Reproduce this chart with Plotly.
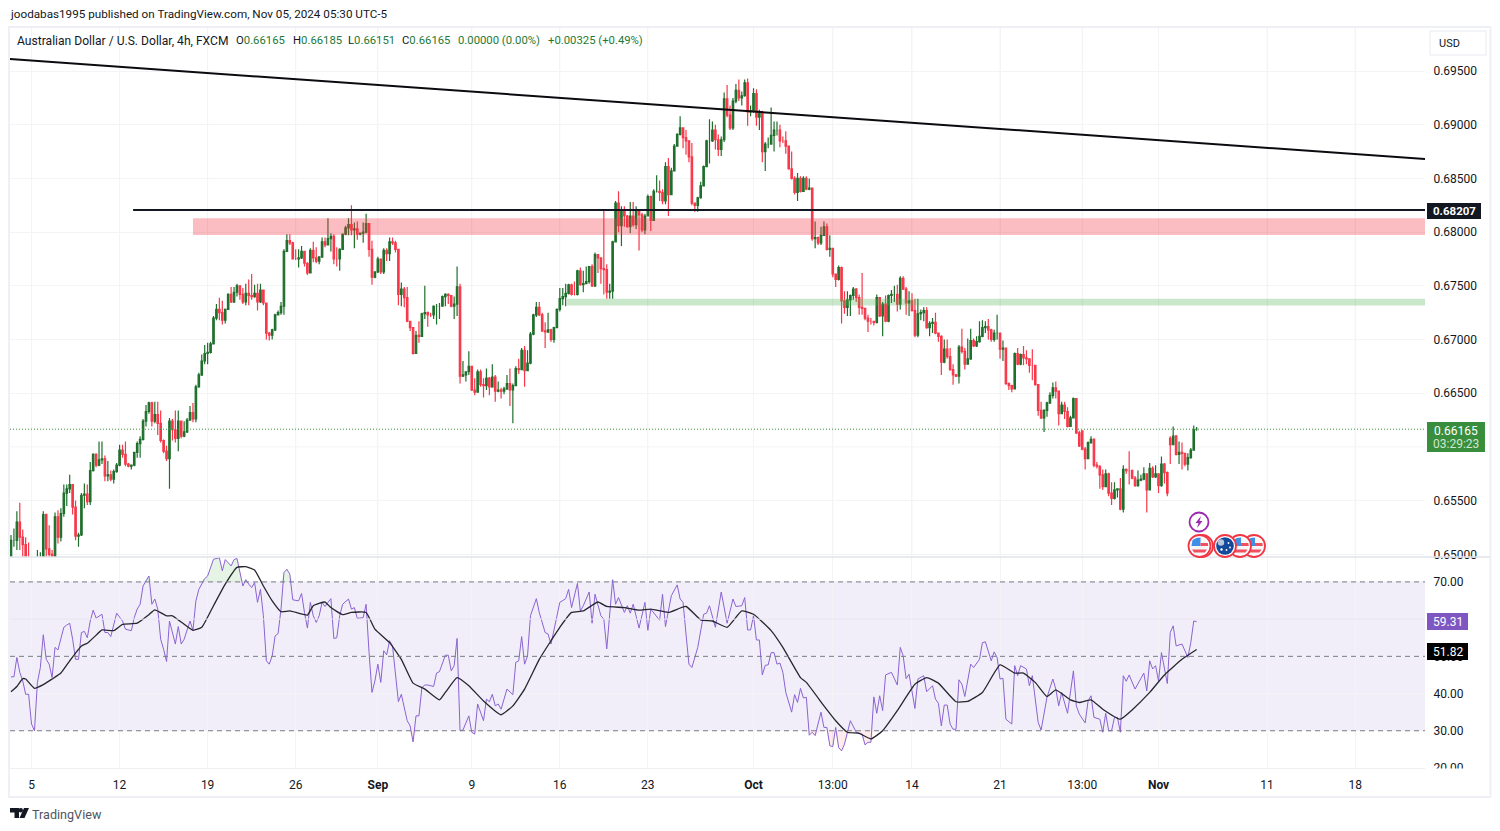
import plotly.graph_objects as go

# --- price data in pips (0.0001), one entry per 4h bar ---
closes = [6513,6513,6530,6516,6509,6496,6490,6480,6475,6490,6490,6537,6505,6500,6496,6535,6516,6538,6557,6561,
6565,6544,6517,6518,6555,6556,6549,6578,6593,6583,6588,6589,6573,6574,6570,6577,6583,6597,6593,6584,
6582,6583,6595,6603,6607,6624,6633,6641,6624,6630,6622,6606,6596,6589,6624,6616,6608,6624,6610,6614,
6625,6632,6626,6656,6667,6680,6687,6688,6696,6720,6728,6725,6718,6728,6742,6735,6744,6750,6742,6735,
6743,6741,6740,6743,6735,6746,6734,6706,6704,6709,6723,6725,6731,6782,6792,6790,6775,6775,6776,6782,
6771,6762,6783,6776,6773,6777,6791,6788,6794,6796,6775,6775,6784,6798,6804,6807,6802,6803,6798,6799,
6800,6808,6784,6758,6763,6775,6763,6783,6780,6791,6790,6784,6742,6747,6739,6717,6711,6687,6704,6703,
6724,6725,6723,6723,6731,6731,6731,6740,6742,6741,6731,6733,6749,6666,6667,6670,6675,6653,6651,6670,
6658,6657,6664,6656,6665,6652,6653,6652,6654,6659,6653,6657,6673,6672,6690,6671,6678,6705,6723,6730,
6723,6708,6707,6709,6700,6711,6728,6738,6740,6743,6751,6742,6742,6764,6751,6752,6754,6768,6750,6779,
6776,6766,6765,6744,6745,6791,6827,6806,6821,6815,6805,6815,6807,6821,6816,6802,6815,6833,6811,6838,
6838,6837,6829,6861,6835,6857,6880,6891,6897,6888,6885,6870,6827,6825,6832,6843,6861,6885,6885,6895,
6886,6877,6886,6924,6909,6897,6922,6932,6925,6927,6939,6912,6913,6929,6907,6911,6875,6882,6882,6890,
6895,6895,6885,6885,6880,6859,6850,6837,6850,6838,6850,6840,6841,6794,6795,6790,6797,6805,6784,6785,
6761,6756,6767,6736,6730,6737,6741,6747,6739,6730,6729,6720,6717,6717,6716,6739,6722,6733,6717,6741,
6742,6742,6733,6757,6747,6734,6736,6727,6704,6724,6725,6727,6711,6715,6716,6706,6703,6679,6691,6684,
6672,6667,6666,6693,6689,6677,6682,6699,6694,6698,6703,6711,6712,6709,6700,6706,6706,6691,6692,6659,
6657,6654,6687,6677,6686,6683,6682,6676,6676,6658,6634,6627,6634,6641,6648,6655,6652,6631,6639,6633,
6619,6627,6645,6613,6601,6598,6589,6604,6607,6583,6582,6574,6563,6575,6557,6552,6560,6561,6542,6579,
6578,6578,6571,6564,6569,6570,6575,6560,6580,6572,6575,6564,6584,6576,6557,6602,6610,6593,6595,6594,
6584,6590,6597,6616,6616.5]
highs = [6518,6524,6540,6548,6523,6516,6511,6492,6490,6504,6502,6540,6538,6527,6504,6539,6541,6543,6565,6565,
6574,6565,6550,6520,6557,6566,6565,6586,6594,6594,6605,6605,6592,6587,6578,6579,6585,6602,6602,6605,
6585,6583,6595,6605,6610,6626,6639,6642,6642,6642,6642,6634,6607,6601,6627,6626,6634,6634,6624,6624,
6627,6638,6641,6658,6669,6686,6695,6697,6698,6722,6733,6739,6736,6729,6743,6749,6749,6752,6750,6748,
6752,6756,6761,6751,6752,6752,6746,6734,6707,6710,6724,6727,6735,6784,6798,6798,6791,6784,6784,6787,
6782,6772,6785,6791,6786,6777,6795,6795,6813,6799,6798,6786,6785,6799,6806,6813,6825,6809,6810,6799,
6809,6817,6808,6792,6763,6777,6775,6785,6785,6795,6795,6792,6784,6753,6749,6749,6717,6711,6708,6717,
6725,6750,6726,6725,6732,6733,6734,6741,6743,6743,6741,6740,6768,6752,6680,6670,6689,6675,6664,6672,
6672,6664,6673,6665,6677,6667,6661,6655,6656,6667,6673,6659,6675,6682,6692,6694,6690,6707,6724,6735,
6735,6725,6716,6725,6710,6712,6729,6748,6748,6752,6752,6752,6754,6765,6767,6764,6768,6768,6770,6781,
6779,6775,6821,6770,6752,6792,6829,6838,6824,6824,6816,6828,6828,6824,6821,6818,6817,6835,6834,6840,
6853,6848,6840,6865,6869,6860,6882,6892,6908,6897,6895,6885,6883,6827,6833,6847,6862,6886,6905,6903,
6900,6891,6889,6930,6937,6918,6925,6938,6942,6931,6942,6943,6918,6934,6933,6914,6913,6884,6888,6916,
6903,6903,6900,6889,6894,6880,6875,6852,6855,6852,6852,6852,6850,6841,6810,6796,6805,6810,6808,6797,
6785,6761,6769,6768,6745,6745,6742,6749,6748,6742,6762,6729,6723,6720,6717,6742,6739,6735,6741,6742,
6746,6750,6751,6759,6759,6749,6745,6743,6738,6738,6728,6730,6730,6717,6720,6725,6706,6704,6700,6700,
6692,6677,6668,6695,6710,6692,6701,6710,6701,6703,6717,6718,6717,6719,6710,6709,6723,6706,6699,6692,
6660,6658,6688,6692,6687,6694,6690,6682,6691,6676,6658,6642,6635,6642,6651,6660,6661,6652,6642,6642,
6637,6629,6646,6645,6615,6615,6600,6605,6610,6608,6586,6583,6579,6579,6576,6567,6567,6561,6571,6583,
6580,6596,6579,6573,6578,6574,6581,6575,6585,6582,6583,6575,6591,6585,6577,6610,6619,6611,6605,6604,
6593,6594,6599,6620,6618.5]
lows = [6495,6507,6504,6504,6496,6488,6470,6465,6460,6470,6480,6490,6497,6493,6485,6495,6510,6512,6535,6545,
6557,6537,6513,6507,6517,6543,6546,6546,6577,6581,6582,6584,6568,6568,6568,6566,6576,6582,6590,6582,
6581,6579,6582,6590,6590,6606,6619,6631,6619,6622,6611,6604,6594,6587,6561,6606,6604,6596,6608,6609,
6613,6625,6623,6623,6655,6666,6677,6677,6687,6696,6718,6718,6714,6715,6728,6734,6734,6740,6737,6733,
6732,6732,6737,6739,6727,6734,6732,6700,6699,6700,6708,6723,6723,6723,6782,6788,6775,6774,6767,6775,
6768,6760,6762,6772,6771,6770,6776,6786,6788,6782,6770,6768,6764,6784,6797,6797,6797,6785,6793,6797,
6790,6799,6777,6751,6757,6762,6761,6761,6773,6773,6788,6781,6732,6731,6730,6716,6708,6686,6687,6697,
6703,6719,6712,6721,6719,6714,6719,6731,6731,6733,6730,6719,6722,6659,6665,6661,6667,6652,6648,6651,
6656,6646,6653,6648,6655,6642,6651,6645,6649,6653,6638,6622,6657,6668,6672,6656,6671,6677,6704,6721,
6722,6707,6692,6706,6698,6697,6711,6726,6732,6731,6742,6741,6741,6741,6750,6744,6752,6752,6749,6749,
6762,6752,6742,6738,6738,6738,6791,6800,6787,6805,6804,6799,6805,6803,6783,6800,6798,6815,6801,6811,
6837,6829,6826,6826,6815,6835,6857,6880,6890,6878,6872,6865,6825,6819,6819,6831,6843,6861,6864,6884,
6877,6871,6871,6884,6907,6895,6895,6920,6922,6918,6926,6899,6908,6911,6899,6895,6865,6857,6878,6882,
6875,6890,6879,6883,6873,6858,6849,6835,6829,6837,6838,6839,6839,6792,6785,6788,6788,6797,6783,6777,
6758,6749,6755,6715,6724,6722,6722,6737,6735,6723,6723,6718,6707,6714,6713,6715,6721,6703,6716,6716,
6734,6735,6726,6728,6746,6723,6722,6726,6702,6702,6718,6717,6710,6703,6706,6705,6698,6667,6678,6682,
6671,6658,6665,6659,6687,6672,6677,6681,6693,6693,6697,6702,6706,6700,6698,6698,6700,6682,6680,6658,
6653,6651,6654,6676,6676,6676,6677,6669,6662,6657,6629,6626,6614,6628,6640,6645,6645,6620,6631,6626,
6618,6619,6627,6612,6600,6597,6579,6589,6603,6581,6580,6561,6560,6563,6554,6546,6551,6553,6541,6539,
6575,6565,6570,6563,6563,6568,6569,6539,6560,6571,6571,6557,6563,6566,6554,6584,6602,6592,6584,6579,
6582,6578,6589,6597,6615.1]
gap_opens = {0: 6490, 365: 6615, 395: 6608, 404: 6616.5}

rsi_bars = [0,1,2,3,4,5,6,7,8,9,10,11,12,13,14,15,16,17,18,19,20,21,22,23,24,25,26,27,28,29,31,32,33,34,35,36,38,39,41,42,43,44,45,47,48,49,50,51,52,53,54,55,56,57,58,59,61,62,63,64,66,67,69,71,72,73,75,76,77,79,80,81,82,83,84,85,86,87,88,89,90,91,92,93,94,95,96,98,99,100,101,102,103,104,105,106,107,108,109,110,111,112,113,115,116,117,118,120,121,122,123,124,125,126,127,128,129,130,131,132,133,134,135,136,137,138,139,140,141,142,144,145,146,148,149,150,151,152,153,154,156,157,158,159,160,161,162,163,164,165,166,167,169,171,172,173,174,175,176,177,179,180,182,183,184,186,187,189,190,191,193,194,195,197,198,199,201,202,203,205,206,
207,209,210,211,212,214,216,217,218,221,222,223,225,227,228,229,230,231,232,234,236,237,238,240,242,244,246,247,249,250,251,252,253,254,255,256,257,258,259,260,261,262,263,264,266,267,268,269,270,271,272,273,274,276,277,278,279,280,281,282,283,284,286,288,290,291,292,293,294,295,296,297,298,300,302,303,304,305,306,308,309,311,312,314,315,316,317,318,319,320,321,322,323,324,325,327,328,330,331,332,334,335,336,337,338,339,341,342,343,344,346,347,348,350,351,353,355,356,357,358,360,362,363,364,366,367,368,369,371,372,373,374,375,376,377,378,379,380,381,383,386,387,388,389,390,391,392,394,395,396,397,399,401,402,403,404]
rsi_values = [44.5,44.5,49.7,45.7,43.4,39.8,39.8,31.8,30,43,47,55.8,49.2,47.9,44.3,52.4,51.7,55,57.8,58.4,58.9,54.6,49.2,49.2,56.4,56.7,55,59.5,62.4,60.3,61.3,56.4,56.4,55.3,58.6,61.6,59.5,57.3,56.9,60.4,62.7,64,68.9,71.6,64,65.4,62.7,54.6,51.9,48.6,59.5,56.4,53.3,58,53.3,54.6,59.5,57,64.9,68,70.9,71.6,76.1,76.5,73,76,74.3,76,76.3,68.9,70.6,69.4,68.5,69.8,64.5,68,60.9,48.8,47.9,50.1,55.5,56.1,62.7,72.5,73.4,72.1,65.2,64.9,66.9,61.8,57.6,64.5,60.9,59.1,60.9,64.5,63.4,64.5,65.5,54.8,55,60.9,64,65.4,62.7,63.1,60.2,60.4,64,51,40.3,43.4,47.9,43,51.5,50.4,54.2,52.8,45.7,37.8,39.8,35.8,32.7,31.3,27,34,34,41.6,42.3,42.3,41.9,45.5,45.9,50.3,50.3,46.1,47.5,54.8,30,30.2,34,29.6,29.1,37.2,34.9,32.7,38.5,37.8,39.8,36.7,37.2,35.8,41.2,39.7,48.4,48.8,55.3,47.9,50.1,60.9,65.5,61.8,56.4,56,53.3,60.9,64.5,65.5,68,63.1,69.6,62.2,63.6,67.3,58.9,66.7,60.9,60,52,70.6,64,
65.8,61.8,63.6,61.6,64,57.6,64.5,57,62.7,59.7,66.7,58,66.3,69.2,65.4,64.5,56,47.9,47,52.4,61.3,61.6,63.6,57.8,67.3,58.9,65.4,63.4,63.6,65.8,57.1,57.1,60.9,54.4,54.4,45,47.6,47.7,51,51,47.9,48.2,45.7,40.3,35,39.7,37.6,41.4,38.8,39,28.8,29.6,28.7,35,30.9,30.9,26,25.7,30.9,25.5,24.6,26.4,32.7,29.6,29.1,26.2,26.9,26.9,39.1,34.7,39.4,35.4,45,45.7,42.3,52.4,50.1,44,45.2,36,43.9,44.8,40.5,42.1,38.5,37.4,31.3,36.9,36.9,31.8,30.4,30.4,43.7,42.5,39.2,47.9,47,49.2,53.7,53.9,48.8,51.2,49.7,43.9,44.1,33.1,31.8,47.5,44.8,47.5,46.6,42.1,44.8,32.2,30.2,39,43.9,41.2,36.7,40.3,34.7,46.1,36.7,34.5,32.1,38,39.4,33.6,33.1,29.6,34.7,30,30,33.6,33.6,29.6,44.8,43.3,45,41.2,45.5,40.7,48.8,46.6,47.5,43.4,51,42.7,56.4,58.2,52.8,53.3,49.7,53.7,59.5,59.31]
ma_bars = [0,2,4,5,8,11,14,17,20,24,26,29,31,35,38,43,47,49,53,55,59,62,65,69,73,77,80,83,86,89,92,95,101,103,107,109,113,116,121,124,129,133,137,141,146,148,152,156,161,167,171,175,180,184,187,191,195,200,203,209,214,218,224,230,235,239,244,249,253,259,263,269,271,277,281,285,289,293,297,302,308,312,316,322,326,331,337,342,345,349,353,356,361,364,368,372,378,382,388,393,399,404]
ma_values = [40.5,41.9,44,43.9,41.4,42.4,43.9,45.5,48.8,52.8,53.5,55.7,57.1,56.9,58.6,58.9,61.2,62.5,60.9,60.9,58.6,57,57.8,63.6,69.4,73.9,74.1,73.2,68.9,64.9,62,62.2,61.1,63.6,64.6,63.1,61.2,61.8,61.8,57.3,53.7,49.2,42.8,41.2,38.3,40.3,44.3,42.1,38,34.3,36.7,41.2,49.2,54.2,57.8,61.8,62.2,64.6,63.4,63.1,62.4,62.7,61.8,63.4,59.8,59.5,57.8,62.2,61.3,56.9,52.4,44.3,43,36.7,32.7,29.6,29.3,27.8,30,35.4,42.5,44.3,42.8,37.8,37.9,40.3,47.7,45.5,45.5,43,39.2,41,38.3,37.6,38.3,35.8,33.1,35.6,40.3,45,49.2,51.82]

price_ticks = [0.65,0.655,0.665,0.67,0.675,0.68,0.685,0.69,0.695]
price_grid_only = [0.66]
rsi_ticks = [20,30,40,50,70]
rsi_grid_only = [60]
time_tick_bars = [7,37,67,97,125,157,187,217,253,280,307,337,365,391,428,458]
time_tick_labels = ['5','12','19','26','<b>Sep</b>','9','16','23','<b>Oct</b>','13:00','14','21','13:00','<b>Nov</b>','11','18']
trend_bars = [-0.34,481.8]
trend_prices = [0.69612,0.68681]
level_price = 0.68207
level_start = 41.6
red_zone = [0.67973,0.6813]
red_zone_start = 62
green_zone = [0.67316,0.6738]
green_zone_start = 189.5
last_price = 0.66165
X_RANGE = [-0.34,481.8]

FONT = 'Roboto'
TXT = '#131722'
GRN = '#1e7a34'
GRID = '#f3f4f6'

def X(p): return p/1500
def Y(p): return 1-p/831

opens = [gap_opens.get(i, closes[i-1]) for i in range(len(closes))]
bars = list(range(len(closes)))
P = lambda a: [v/10000 for v in a]
over = [max(v,70) for v in rsi_values]
under = [min(v,30) for v in rsi_values]

fig = go.Figure()
# RSI fills
fig.add_trace(go.Scatter(x=rsi_bars,y=[70]*len(rsi_bars),mode='lines',line=dict(width=0),xaxis='x',yaxis='y2',showlegend=False,hoverinfo='skip'))
fig.add_trace(go.Scatter(x=rsi_bars,y=over,mode='lines',line=dict(width=0),fill='tonexty',fillcolor='rgba(76,175,80,0.14)',xaxis='x',yaxis='y2',showlegend=False,hoverinfo='skip'))
fig.add_trace(go.Scatter(x=rsi_bars,y=[30]*len(rsi_bars),mode='lines',line=dict(width=0),xaxis='x',yaxis='y2',showlegend=False,hoverinfo='skip'))
fig.add_trace(go.Scatter(x=rsi_bars,y=under,mode='lines',line=dict(width=0),fill='tonexty',fillcolor='rgba(242,54,69,0.10)',xaxis='x',yaxis='y2',showlegend=False,hoverinfo='skip'))
fig.add_trace(go.Scatter(x=rsi_bars,y=rsi_values,mode='lines',line=dict(color='#8a63d2',width=1),xaxis='x',yaxis='y2',showlegend=False))
fig.add_trace(go.Scatter(x=ma_bars,y=ma_values,mode='lines',line=dict(color='#26262e',width=1.3,shape='spline',smoothing=0.4),xaxis='x',yaxis='y2',showlegend=False))
# candles
fig.add_trace(go.Candlestick(x=bars,open=P(opens),high=P(highs),low=P(lows),close=P(closes),xaxis='x',yaxis='y',
    increasing=dict(line=dict(color='#1f6f2c',width=1.2),fillcolor='#1f6f2c'),
    decreasing=dict(line=dict(color='#f7384a',width=1.2),fillcolor='#f7384a'),whiskerwidth=0,showlegend=False))
# drawn lines
fig.add_trace(go.Scatter(x=trend_bars,y=trend_prices,mode='lines',line=dict(color='#0b0b0f',width=2),xaxis='x',yaxis='y',showlegend=False))
fig.add_trace(go.Scatter(x=[level_start,X_RANGE[1]],y=[level_price,level_price],mode='lines',line=dict(color='#131722',width=2),xaxis='x',yaxis='y',showlegend=False))

shapes=[]
def rect(x0,y0,x1,y1,fill,line=None,w=0,layer='above'):
    shapes.append(dict(type='rect',xref='paper',yref='paper',x0=X(x0),x1=X(x1),y0=Y(y0),y1=Y(y1),fillcolor=fill,line=dict(color=line or 'rgba(0,0,0,0)',width=w),layer=layer))
def circ(cx,cy,r,fill,line=None,w=0):
    shapes.append(dict(type='circle',xref='paper',yref='paper',x0=X(cx-r),x1=X(cx+r),y0=Y(cy+r),y1=Y(cy-r),fillcolor=fill,line=dict(color=line or 'rgba(0,0,0,0)',width=w),layer='above'))
def path(pts,fill):
    d=''.join(('M' if i==0 else 'L')+f'{X(a):.5f},{Y(b):.5f} ' for i,(a,b) in enumerate(pts))+'Z'
    shapes.append(dict(type='path',xref='paper',yref='paper',path=d,fillcolor=fill,line=dict(width=0),layer='above'))

# grid lines without a label, and vertical grid through the upper pane
for v in price_grid_only:
    shapes.append(dict(type='line',xref='x',yref='y',x0=X_RANGE[0],x1=X_RANGE[1],y0=v,y1=v,line=dict(color=GRID,width=1),layer='below'))
for v in rsi_grid_only:
    shapes.append(dict(type='line',xref='x',yref='y2',x0=X_RANGE[0],x1=X_RANGE[1],y0=v,y1=v,line=dict(color='#e9e6f1',width=1),layer='above'))
for t in time_tick_bars:
    shapes.append(dict(type='line',xref='x',yref='paper',x0=t,x1=t,y0=Y(557),y1=Y(27),line=dict(color=GRID,width=1),layer='below'))
# zones
shapes.append(dict(type='rect',xref='x',yref='y',x0=red_zone_start,x1=X_RANGE[1],y0=red_zone[0],y1=red_zone[1],fillcolor='rgba(242,54,69,0.33)',line=dict(width=0),layer='above'))
shapes.append(dict(type='rect',xref='x',yref='y',x0=green_zone_start,x1=X_RANGE[1],y0=green_zone[0],y1=green_zone[1],fillcolor='rgba(76,175,80,0.30)',line=dict(width=0),layer='above'))
shapes.append(dict(type='line',xref='x',yref='y',x0=X_RANGE[0],x1=X_RANGE[1],y0=last_price,y1=last_price,line=dict(color='#388e3c',width=1,dash='1px,2px'),layer='above'))
# RSI band
shapes.append(dict(type='rect',xref='x',yref='y2',x0=X_RANGE[0],x1=X_RANGE[1],y0=30,y1=70,fillcolor='rgba(126,87,194,0.10)',line=dict(width=0),layer='below'))
for lv in (70,50,30):
    shapes.append(dict(type='line',xref='x',yref='y2',x0=X_RANGE[0],x1=X_RANGE[1],y0=lv,y1=lv,line=dict(color='#787b86',width=1,dash='5px,4px'),layer='above'))
# frame
rect(9,27,1490.5,797,'rgba(0,0,0,0)','#eef0f5',2,'above')
shapes.append(dict(type='line',xref='paper',yref='paper',x0=X(10),x1=X(1490),y0=Y(557),y1=Y(557),line=dict(color='#e0e3eb',width=1.5),layer='above'))
shapes.append(dict(type='line',xref='paper',yref='paper',x0=X(10),x1=X(1425),y0=Y(768.5),y1=Y(768.5),line=dict(color='#eef0f3',width=1),layer='above'))
# mask lower half of the clipped 20.00 tick
rect(1428,768.5,1488,776,'#ffffff')
# labels on the scale
rect(1427,422,1485,452,'#388e3c')
rect(1427,203,1481,219,'#131722')
rect(1427,613,1468,630,'#7e57c2')
rect(1427,643,1468,660,'#000000')
shapes.append(dict(type='rect',xref='paper',yref='paper',x0=X(1430),x1=X(1486),y0=Y(55),y1=Y(31),fillcolor='#ffffff',line=dict(color='#e8eaf0',width=1),layer='above'))
# icons
circ(1199,522,9.5,'#ffffff','#9c27b0',1.8)
path([(1201,516),(1195.5,523),(1198.5,523),(1197,528),(1202.5,521),(1199.5,521)],'#9c27b0')
def us(cx,cy):
    circ(cx,cy,11,'#ffffff','#f23645',1.8)
    circ(cx,cy,8.8,'#f6f6f8')
    path([(cx-7,cy-6),(cx-3,cy-8),(cx+1,cy-8.5),(cx+1,cy),(cx-8,cy)],'#3d8fe8')
    path([(cx+1,cy-3),(cx+8.3,cy-3),(cx+8.8,cy),(cx+1,cy)],'#f0505f')
    path([(cx-7.5,cy+3.5),(cx+7.5,cy+3.5),(cx+5.5,cy+6.5),(cx-5.5,cy+6.5)],'#f0505f')
def au(cx,cy):
    circ(cx,cy,11,'#ffffff','#f23645',1.8)
    circ(cx,cy,8.8,'#134a9c')
    circ(cx-4,cy-3.5,3.2,'#b7c4da')
    circ(cx+3.5,cy-3,0.9,'#ffffff'); circ(cx+5,cy+1.5,0.9,'#ffffff'); circ(cx+1.5,cy+4,0.9,'#ffffff'); circ(cx-3.5,cy+3.5,1.2,'#ffffff')
us(1202,546); us(1199.5,546)
us(1254,546); us(1240,546); au(1225,546)
# logo
path([(10,808),(19,808),(19,818),(14.5,818),(14.5,812.5),(10,812.5)],'#131722')
circ(20.8,810.2,2.2,'#131722')
path([(24,808),(29,808),(24.5,818),(19.5,818)],'#131722')

anns=[]
def txt(x,y,s,size=11.5,color=TXT,anchor='left'):
    anns.append(dict(xref='paper',yref='paper',x=X(x),y=Y(y),text=s,showarrow=False,xanchor=anchor,yanchor='middle',align=anchor,
        font=dict(family=FONT,size=size,color=color)))
txt(8,14,'joodabas1995 published on TradingView.com, Nov 05, 2024 05:30 UTC-5',11.7)
g=lambda s:f'<span style="color:{GRN}">{s}</span>'
txt(15,41,'Australian Dollar / U.S. Dollar, 4h, FXCM',12.1)
txt(234,41,'O'+g('0.66165'),11.3)
txt(291,41,'H'+g('0.66185'),11.3)
txt(346,41,'L'+g('0.66151'),11.3)
txt(400,41,'C'+g('0.66165'),11.3)
txt(456,41,g('0.00000 (0.00%)'),11.3)
txt(546,41,g('+0.00325 (+0.49%)'),11.3)
txt(1449,43.5,'USD',11,TXT,'center')
txt(1456,430.5,'0.66165',12,'#ffffff','center')
txt(1456,444,'03:29:23',12,'#cfe8d0','center')
txt(1454,211,'<b>0.68207</b>',11.5,'#ffffff','center')
txt(1448,621.5,'59.31',12,'#ffffff','center')
txt(1448,651.5,'51.82',12,'#ffffff','center')
txt(30,814,'TradingView',12.6,'#50535e')

axis_common = dict(showline=False,zeroline=False,gridcolor=GRID,gridwidth=1,automargin=False)
fig.update_layout(
    width=1500,height=831,autosize=False,margin=dict(l=0,r=0,t=0,b=0,pad=0,autoexpand=False),paper_bgcolor='#ffffff',plot_bgcolor='#ffffff',
    showlegend=False,shapes=shapes,annotations=anns,hovermode=False,
    xaxis=dict(domain=[X(10),X(1425)],range=X_RANGE,anchor='y2',tickmode='array',tickvals=time_tick_bars,ticktext=time_tick_labels,
               tickfont=dict(family=FONT,size=12,color=TXT),ticks='outside',ticklen=6,tickcolor='rgba(0,0,0,0)',rangeslider=dict(visible=False),**axis_common),
    xaxis2=dict(domain=[X(10),X(1425)],range=X_RANGE,anchor='y',matches='x',tickmode='array',tickvals=time_tick_bars,showticklabels=False,ticks='',rangeslider=dict(visible=False),**axis_common),
    yaxis=dict(domain=[Y(557),Y(27)],range=[0.64975,0.6991],side='right',anchor='x',tickmode='array',tickvals=price_ticks,tickformat='.5f',
               tickfont=dict(family=FONT,size=12,color=TXT),ticks='outside',ticklen=5,tickcolor='rgba(0,0,0,0)',**axis_common),
    yaxis2=dict(domain=[Y(768),Y(557)],range=[19.99,76.7],side='right',anchor='x',tickmode='array',tickvals=rsi_ticks,tickformat='.2f',
               tickfont=dict(family=FONT,size=12,color=TXT),ticks='outside',ticklen=5,tickcolor='rgba(0,0,0,0)',**axis_common),
)
# pin the graph to the window so the page is exactly the window's size
ps = ("document.documentElement.style.margin='0';document.body.style.margin='0';"
      "var g=document.getElementsByClassName('plotly-graph-div')[0];"
      "g.style.position='fixed';g.style.left='0';g.style.top='0';")
fig.write_html('out.html',post_script=ps,config=dict(displayModeBar=False))
